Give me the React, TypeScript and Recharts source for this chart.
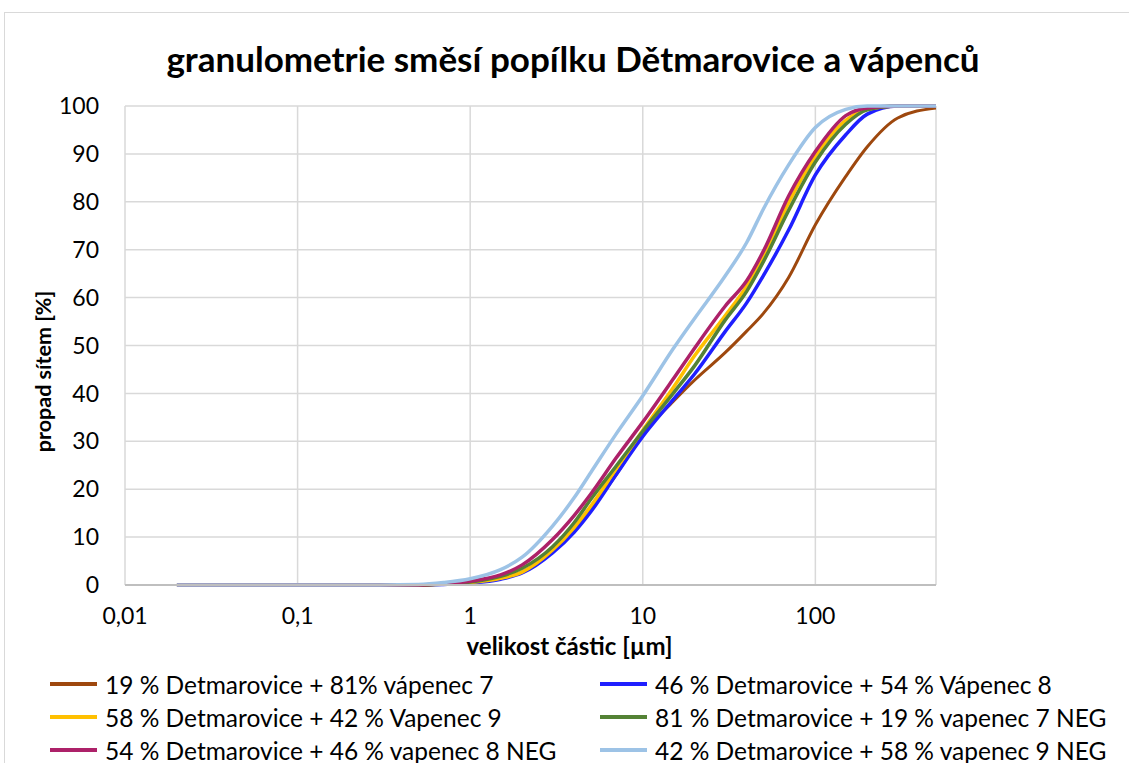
import React from 'react';
import { LineChart, Line, XAxis, YAxis, CartesianGrid, Legend } from 'recharts';

// particle size [µm]
const sizes = [0.02, 0.05, 0.1, 0.2, 0.3, 0.5, 0.7, 1, 1.5, 2, 3, 4, 5, 7, 10, 15, 20, 30, 40, 50, 70, 100, 150, 200, 300, 500];

// cumulative passing [%]
const det19vap7 = [0, 0, 0, 0, 0, 0, 0.2, 0.5, 1.4, 2.7, 7, 11.5, 15.8, 23, 31.5, 38.3, 42.8, 48.5, 53, 56.7, 64.2, 75.2, 85.3, 91.5, 97.5, 99.6];
const det46vap8 = [0, 0, 0, 0, 0, 0, 0.1, 0.4, 1.2, 2.5, 6.7, 11, 15.3, 23, 31, 38.7, 44.1, 52.9, 58.9, 64.6, 74.1, 85.6, 94, 98.3, 100, 100];
const det58vap9 = [0, 0, 0, 0, 0, 0, 0.2, 0.5, 1.4, 2.7, 7.3, 12, 16.5, 24.2, 32.3, 41.2, 47.9, 56.2, 62.4, 68.5, 79.8, 89.5, 97, 99.3, 100, 100];
const det81vap7neg = [0, 0, 0, 0, 0, 0, 0.2, 0.6, 1.8, 3.5, 8, 13, 17.9, 24.8, 32.1, 40, 45.8, 55.3, 61.3, 67.5, 78.2, 88.3, 96.2, 99.2, 100, 100];
const det54vap8neg = [0, 0, 0, 0, 0, 0, 0.3, 0.8, 2.1, 4.2, 9.5, 14.5, 19, 26.5, 34, 43, 49.5, 58.2, 63.5, 69.7, 81.2, 90.5, 98, 99.6, 100, 100];
const det42vap9neg = [0, 0, 0, 0, 0, 0.1, 0.5, 1.3, 3.2, 5.8, 12.3, 18.2, 23.5, 31.5, 39.5, 49.3, 55.7, 64.5, 71.5, 78.5, 87.7, 95.5, 99.3, 100, 100, 100];

const xTicks = [0.01, 0.1, 1, 10, 100];
const yTicks = [0, 10, 20, 30, 40, 50, 60, 70, 80, 90, 100];

const series = [
  { key: 's1', name: '19 % Detmarovice + 81% vápenec 7', color: '#9E480E', values: det19vap7, width: 3 },
  { key: 's2', name: '46 % Detmarovice + 54 % Vápenec 8', color: '#1F1FFF', values: det46vap8, width: 3.5 },
  { key: 's3', name: '58 % Detmarovice + 42 % Vapenec 9', color: '#FFC000', values: det58vap9, width: 3.5 },
  { key: 's4', name: '81 % Detmarovice + 19 % vapenec 7 NEG', color: '#548235', values: det81vap7neg, width: 3.5 },
  { key: 's5', name: '54 % Detmarovice + 46 % vapenec 8 NEG', color: '#AD2169', values: det54vap8neg, width: 3.5 },
  { key: 's6', name: '42 % Detmarovice + 58 % vapenec 9 NEG', color: '#9DC3E6', values: det42vap9neg, width: 3.5 },
];

const rows = sizes.map((x, i) => {
  const r: Record<string, number> = { x };
  series.forEach(s => { r[s.key] = s.values[i]; });
  return r;
});

const FONT = 'Lato, "Open Sans", sans-serif';

const LegendGrid = () => (
  <div style={{ position: 'relative', width: 1129, height: 100, fontFamily: FONT, fontSize: 24.5, color: '#000' }}>
    {series.map((s, i) => {
      const col = i % 2;
      const row = Math.floor(i / 2);
      return (
        <div key={s.key} style={{
          position: 'absolute', left: col === 0 ? 50 : 600, top: row * 33 - 16, height: 32,
          display: 'flex', alignItems: 'center', whiteSpace: 'nowrap',
        }}>
          <span style={{ display: 'inline-block', width: 47, height: 4, background: s.color, marginRight: 8 }} />
          <span>{s.name}</span>
        </div>
      );
    })}
  </div>
);

export default function App() {
  return (
    <div style={{ position: 'absolute', left: 0, top: 0, width: 1129, height: 763, overflow: 'hidden', background: '#fff' }}>
      <div style={{ position: 'absolute', left: 4, top: 12, width: 1140, height: 800, border: '1px solid #D9D9D9' }} />
      <div style={{
        position: 'absolute', left: 0, top: 37, width: 1146, textAlign: 'center',
        fontFamily: FONT, fontWeight: 700, fontSize: 35, color: '#000',
      }}>
        granulometrie směsí popílku Dětmarovice a vápenců
      </div>
      <div style={{ position: 'absolute', left: 0, top: 0 }}>
        <LineChart width={1129} height={763} data={rows}
          margin={{ top: 106, right: 193, left: 65, bottom: 128 }}>
          <CartesianGrid stroke="#D9D9D9" strokeWidth={1.5} />
          <XAxis dataKey="x" type="number" scale="log" domain={[0.01, 500]} ticks={xTicks}
            allowDataOverflow height={50} tickLine={false} tickSize={0} tickMargin={23}
            axisLine={{ stroke: '#BFBFBF', strokeWidth: 2 }}
            tick={{ fill: '#000', fontSize: 23, fontFamily: FONT }}
            tickFormatter={v => String(v).replace('.', ',')}
            label={{ value: 'velikost částic [µm]', position: 'bottom', offset: 3, dx: 39,
              style: { fill: '#000', fontSize: 24, fontWeight: 700, fontFamily: FONT } }} />
          <YAxis type="number" domain={[0, 100]} ticks={yTicks} width={60}
            axisLine={false} tickLine={false} tickSize={0} tickMargin={26}
            tick={{ fill: '#000', fontSize: 23, fontFamily: FONT }}
            label={{ value: 'propad sítem [%]', angle: -90, position: 'insideLeft', offset: -22, dy: 26,
              style: { textAnchor: 'middle', fill: '#000', fontSize: 21.5, fontWeight: 700, fontFamily: FONT } }} />
          {series.map(s => (
            <Line key={s.key} dataKey={s.key} name={s.name} type="monotone" stroke={s.color}
              strokeWidth={s.width} dot={false} activeDot={false} isAnimationActive={false} />
          ))}
          <Legend content={() => <LegendGrid />}
            wrapperStyle={{ position: 'absolute', left: 0, top: 684, width: 1129, height: 0, overflow: 'visible' }} />
        </LineChart>
      </div>
    </div>
  );
}
